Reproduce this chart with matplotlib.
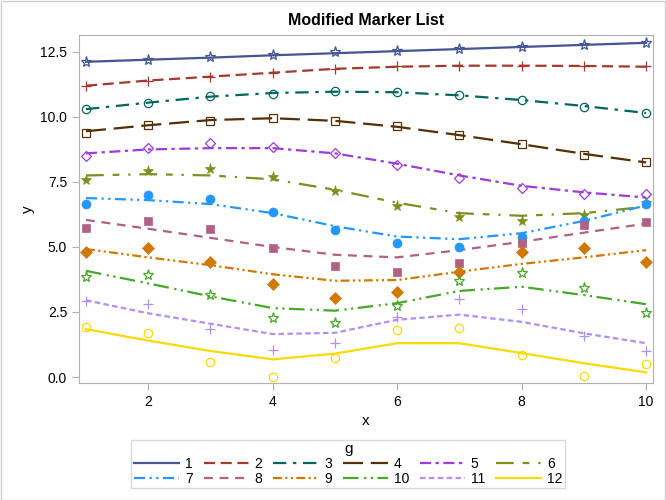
import numpy as np
import matplotlib
matplotlib.use("Agg")
import matplotlib.pyplot as plt

plt.rcParams['font.family'] = ['Liberation Sans', 'DejaVu Sans']

x = [1, 2, 3, 4, 5, 6, 7, 8, 9, 10]
groups = ["1", "2", "3", "4", "5", "6", "7", "8", "9", "10", "11", "12"]

# observed points per group
pts = [
    [12.1, 12.2, 12.3, 12.4, 12.5, 12.55, 12.6, 12.7, 12.75, 12.85],
    [11.2, 11.4, 11.55, 11.7, 11.85, 11.95, 11.97, 11.97, 11.97, 11.95],
    [10.3, 10.55, 10.8, 10.9, 11.0, 10.95, 10.85, 10.65, 10.4, 10.15],
    [9.4, 9.7, 9.85, 9.97, 9.85, 9.65, 9.3, 8.95, 8.55, 8.25],
    [8.5, 8.8, 9.0, 8.85, 8.6, 8.15, 7.65, 7.25, 7.05, 7.05],
    [7.58, 7.92, 8.0, 7.7, 7.15, 6.58, 6.15, 6.0, 6.23, 6.7],
    [6.65, 7.0, 6.85, 6.35, 5.65, 5.15, 5.0, 5.4, 6.0, 6.65],
    [5.72, 6.0, 5.69, 4.96, 4.25, 4.03, 4.38, 5.15, 5.85, 5.96],
    [4.8, 4.97, 4.43, 3.58, 3.04, 3.26, 4.05, 4.81, 4.97, 4.42],
    [3.85, 3.92, 3.15, 2.26, 2.07, 2.74, 3.69, 4.0, 3.41, 2.46],
    [2.92, 2.8, 1.85, 1.04, 1.31, 2.32, 3.0, 2.6, 1.58, 1.0],
    [1.93, 1.68, 0.57, 0.0, 0.74, 1.8, 1.87, 0.84, 0.04, 0.5],
]

# fitted curve per group
fits = [
    [12.12, 12.2, 12.28, 12.37, 12.45, 12.53, 12.61, 12.69, 12.77, 12.85],
    [11.2, 11.4, 11.55, 11.7, 11.85, 11.93, 11.97, 11.97, 11.96, 11.93],
    [10.3, 10.55, 10.78, 10.92, 10.97, 10.95, 10.83, 10.65, 10.42, 10.15],
    [9.45, 9.68, 9.88, 9.95, 9.85, 9.62, 9.3, 8.95, 8.58, 8.25],
    [8.6, 8.75, 8.8, 8.8, 8.6, 8.2, 7.75, 7.35, 7.1, 6.9],
    [7.75, 7.8, 7.75, 7.6, 7.2, 6.7, 6.3, 6.2, 6.3, 6.55],
    [6.88, 6.8, 6.65, 6.3, 5.8, 5.4, 5.3, 5.53, 6.0, 6.6],
    [6.04, 5.7, 5.35, 5.0, 4.7, 4.6, 4.88, 5.2, 5.55, 5.9],
    [4.92, 4.6, 4.3, 3.95, 3.7, 3.73, 4.05, 4.35, 4.6, 4.88],
    [4.08, 3.6, 3.1, 2.65, 2.55, 2.84, 3.31, 3.47, 3.15, 2.8],
    [2.95, 2.45, 2.05, 1.65, 1.7, 2.2, 2.4, 2.12, 1.68, 1.3],
    [1.84, 1.4, 1.0, 0.68, 0.9, 1.3, 1.3, 0.92, 0.53, 0.18],
]

colors = ["#445694", "#A23A2E", "#01665E", "#543005", "#9D3CDB", "#7F8E1F",
          "#2597FA", "#B26084", "#D17800", "#47A82A", "#B38EF3", "#F9DA04"]
markers = ["*", "+", "o", "s", "D", "*", "o", "s", "D", "*", "+", "o"]
sizes = [8, 7, 6, 6, 5.5, 8, 6.5, 6, 6, 8, 7, 6]
filled = [False, False, False, False, False, True, True, True, True, False, False, False]
dashes = [
    "-",
    (0, (5, 2.5)),
    (0, (6, 3, 1.5, 3)),
    (0, (9, 3.5)),
    (0, (5, 2, 1.5, 2)),
    (0, (8, 4, 3, 4, 1, 4)),
    (0, (5, 2, 1, 2, 1, 2)),
    (0, (4, 3)),
    (0, (4, 1.5, 1, 1.5, 1, 1.5)),
    (0, (7, 2.5, 1, 2, 1, 2)),
    (0, (2.5, 1.5)),
    "-",
]

fig = plt.figure(figsize=(6.66, 5), dpi=100)
ax = fig.add_axes([0.1186, 0.234, 0.8619, 0.696])

handles = []
for i in range(len(groups)):
    c = colors[i]
    if filled[i]:
        ax.plot(x, pts[i], linestyle="none", marker=markers[i], ms=sizes[i],
                color=c, mec=c, mfc=c, mew=0.5, zorder=3)
    else:
        ax.plot(x, pts[i], linestyle="none", marker=markers[i], ms=sizes[i],
                color=c, mec=c, mfc="none", mew=0.9, zorder=3)
    h, = ax.plot(x, fits[i], color=c, linestyle=dashes[i], lw=1.6, zorder=2,
                 label=groups[i])
    handles.append(h)

ax.set_xlim(0.887, 10.11)
ax.set_ylim(-0.23, 13.15)
ax.set_xticks([2, 4, 6, 8, 10])
ax.set_yticks([0, 2.5, 5, 7.5, 10, 12.5])
ax.set_yticklabels(["0.0", "2.5", "5.0", "7.5", "10.0", "12.5"])
for s in ax.spines.values():
    s.set_color("#b0b0b0")
ax.tick_params(colors="#b0b0b0", labelcolor="black", labelsize=10, length=5)
ax.set_xlabel("x", fontsize=11)
ax.set_ylabel("y", fontsize=11)
ax.set_title("Modified Marker List", fontsize=11.5, fontweight="bold", pad=7)

# legend rows 1-6 then 7-12, matplotlib fills by column
order = []
for col in range(6):
    order.append(col)
    order.append(col + 6)
leg = fig.legend([handles[k] for k in order], [groups[k] for k in order],
                 ncol=6, title="g", loc="center", bbox_to_anchor=(0.523, 0.072),
                 fontsize=10, title_fontsize=11, frameon=True, fancybox=False,
                 handlelength=3.25, handletextpad=0.4, columnspacing=0.8,
                 labelspacing=0.05, borderpad=0.2)
leg.get_frame().set_edgecolor("#d0d0d0")
leg.get_frame().set_linewidth(1.0)

# light outer border like the original
fig.patches.append(plt.Rectangle((0.001, 0.001), 0.998, 0.997, transform=fig.transFigure,
                                 fill=False, edgecolor="#d0d0d0", lw=1.0))

fig.savefig("out.png", dpi=100)
